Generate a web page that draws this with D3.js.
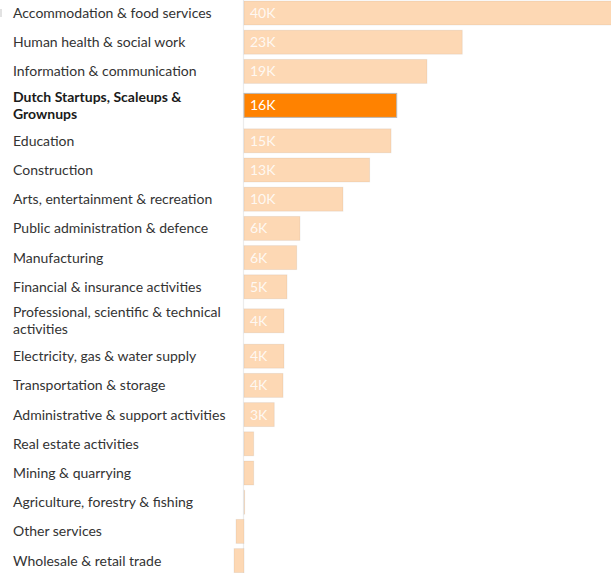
<!DOCTYPE html>
<html>
<head>
<meta charset="utf-8">
<script src="https://cdn.jsdelivr.net/npm/d3@7"></script>
<style>
  html, body { margin: 0; padding: 0; background: #fff; }
  svg { display: block; font-family: Lato, "Open Sans", sans-serif; }
</style>
</head>
<body>
<svg id="chart" width="611" height="573"></svg>
<script>
const categories = [
  "Accommodation & food services",
  "Human health & social work",
  "Information & communication",
  "Dutch Startups, Scaleups & Grownups",
  "Education",
  "Construction",
  "Arts, entertainment & recreation",
  "Public administration & defence",
  "Manufacturing",
  "Financial & insurance activities",
  "Professional, scientific & technical activities",
  "Electricity, gas & water supply",
  "Transportation & storage",
  "Administrative & support activities",
  "Real estate activities",
  "Mining & quarrying",
  "Agriculture, forestry & fishing",
  "Other services",
  "Wholesale & retail trade"
];
// label lines as displayed (wrapped)
const labelLines = [
  ["Accommodation & food services"],
  ["Human health & social work"],
  ["Information & communication"],
  ["Dutch Startups, Scaleups &", "Grownups"],
  ["Education"],
  ["Construction"],
  ["Arts, entertainment & recreation"],
  ["Public administration & defence"],
  ["Manufacturing"],
  ["Financial & insurance activities"],
  ["Professional, scientific & technical", "activities"],
  ["Electricity, gas & water supply"],
  ["Transportation & storage"],
  ["Administrative & support activities"],
  ["Real estate activities"],
  ["Mining & quarrying"],
  ["Agriculture, forestry & fishing"],
  ["Other services"],
  ["Wholesale & retail trade"]
];
// values in thousands
const values = [40, 22.93, 19.22, 16.04, 15.45, 13.2, 10.4, 5.88, 5.54, 4.52, 4.2, 4.2, 4.1, 3.18, 1.02, 1.02, 0.07, -0.84, -1.05];
const valueLabels = ["40K", "23K", "19K", "16K", "15K", "13K", "10K", "6K", "6K", "5K", "4K", "4K", "4K", "3K", "", "", "", "", ""];
const highlight = "Dutch Startups, Scaleups & Grownups";

const svg = d3.select("#chart");
const x = d3.scaleLinear().domain([0, 40]).range([244, 624.8]);

// row layout: single-line rows and two-line rows
const singleH = 29.2, doubleH = 40.2, barH = 24;
let yPos = 1;
const rows = categories.map((c, i) => {
  const two = labelLines[i].length > 1;
  const top = yPos + (two ? 4.8 : 0);
  yPos += two ? doubleH : singleH;
  return { cat: c, lines: labelLines[i], value: values[i], label: valueLabels[i], barTop: top };
});

// faint mark at top-left
svg.append("rect").attr("x", 0).attr("y", 9).attr("width", 2).attr("height", 8).attr("fill", "#e2e2e2");

// zero line
svg.append("line")
  .attr("x1", x(0) - 0.5).attr("x2", x(0) - 0.5)
  .attr("y1", 0).attr("y2", 573)
  .attr("stroke", "#ececec").attr("stroke-width", 1.2);

const g = svg.append("g");

g.selectAll("rect.bar").data(rows).join("rect")
  .attr("class", "bar")
  .attr("x", d => Math.min(x(0), x(d.value)))
  .attr("y", d => d.barTop)
  .attr("width", d => Math.abs(x(d.value) - x(0)))
  .attr("height", barH)
  .attr("fill", d => d.cat === highlight ? "#ff8200" : "#fdd8b4")
  .attr("stroke", d => d.cat === highlight ? "#b8b8b8" : "rgba(0,0,0,0.06)")
  .attr("stroke-width", 1);

g.selectAll("text.val").data(rows.filter(d => d.label)).join("text")
  .attr("class", "val")
  .attr("x", x(0) + 6)
  .attr("y", d => d.barTop + barH / 2)
  .attr("dy", "0.36em")
  .attr("font-size", 14)
  .attr("fill", d => d.cat === highlight ? "#ffffff" : "rgba(255,255,255,0.85)")
  .text(d => d.label);

const labels = g.selectAll("text.cat").data(rows).join("text")
  .attr("class", "cat")
  .attr("x", 13)
  .attr("font-size", 14)
  .attr("font-weight", d => d.cat === highlight ? 700 : 400)
  .attr("fill", d => d.cat === highlight ? "#1a1a1a" : "#333");
labels.each(function(d) {
  const n = d.lines.length, lh = 17;
  const cy = d.barTop + barH / 2;
  d3.select(this).selectAll("tspan").data(d.lines).join("tspan")
    .attr("x", 13)
    .attr("y", (l, j) => cy + (j - (n - 1) / 2) * lh)
    .attr("dy", "0.36em")
    .text(l => l);
});
</script>
</body>
</html>
